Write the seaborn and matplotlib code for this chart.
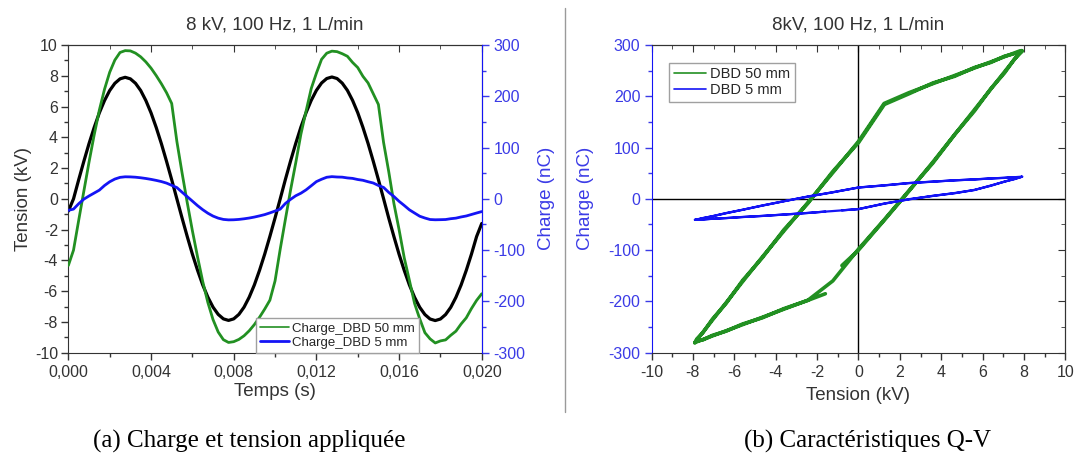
import numpy as np
import matplotlib
matplotlib.use("Agg")
import matplotlib.pyplot as plt
from matplotlib.lines import Line2D
from matplotlib.ticker import MultipleLocator, FuncFormatter
import seaborn as sns

# oscilloscope samples, one every 0.25 ms over two periods
time_s = np.linspace(0.0, 0.020, 81)

tension_kv = [
    -0.80, 0.00, 1.24, 2.44, 3.59, 4.64, 5.59, 6.39, 7.04, 7.51,
    7.80, 7.90, 7.80, 7.51, 7.04, 6.39, 5.59, 4.64, 3.59, 2.44,
    1.24, 0.00, -1.24, -2.44, -3.59, -4.64, -5.59, -6.39, -7.04, -7.51,
    -7.80, -7.90, -7.80, -7.51, -7.04, -6.39, -5.59, -4.64, -3.59, -2.44,
    -1.24, 0.00, 1.26, 2.46, 3.60, 4.66, 5.60, 6.40, 7.05, 7.53,
    7.82, 7.92, 7.82, 7.52, 7.05, 6.40, 5.60, 4.65, 3.60, 2.45,
    1.25, 0.01, -1.25, -2.45, -3.60, -4.65, -5.60, -6.40, -7.05, -7.52,
    -7.81, -7.91, -7.81, -7.52, -7.05, -6.40, -5.60, -4.65, -3.60, -2.45,
    -1.60,
]

charge_50mm_nc = [
    -130.0, -100.0, -42.0, 15.0, 71.5, 124.8, 173.1, 213.7, 246.8, 270.6,
    285.4, 289.0, 288.5, 284.1, 276.9, 267.0, 254.9, 240.4, 224.5, 207.0,
    186.0, 112.0, 51.0, -7.0, -62.0, -113.0, -161.0, -202.1, -235.5, -259.7,
    -274.6, -280.0, -278.5, -274.1, -267.0, -257.2, -245.1, -230.8, -214.9, -197.6,
    -160.0, -98.0, -40.0, 17.0, 70.0, 126.0, 171.0, 215.0, 245.0, 272.0,
    284.0, 288.0, 287.0, 283.0, 278.0, 266.0, 256.0, 239.0, 226.0, 205.0,
    184.0, 110.0, 53.0, -9.0, -60.0, -115.0, -159.0, -204.0, -234.0, -261.0,
    -273.0, -281.0, -277.0, -275.0, -266.0, -258.0, -244.0, -232.0, -214.0, -198.0,
    -185.0,
]

charge_5mm_nc = [
    -22.4, -20.0, -9.5, -0.6, 5.6, 11.3, 17.0, 26.0, 33.3, 38.6,
    41.9, 43.0, 42.8, 42.2, 41.1, 39.7, 38.0, 36.0, 33.7, 30.7,
    26.4, 22.0, 13.0, 4.3, -4.4, -13.2, -21.1, -28.0, -33.6, -37.6,
    -40.1, -41.0, -40.8, -40.1, -38.9, -37.4, -35.5, -33.2, -30.7, -27.4,
    -23.8, -20.0, -9.0, -1.0, 6.0, 11.0, 17.5, 25.5, 33.6, 38.2,
    42.1, 43.3, 42.6, 42.3, 40.8, 39.9, 37.7, 36.2, 33.4, 30.9,
    26.1, 22.3, 12.6, 4.6, -4.8, -12.9, -21.4, -27.7, -33.9, -37.4,
    -40.3, -40.8, -40.6, -40.3, -38.7, -37.6, -35.3, -33.4, -30.5, -27.6,
    -24.8,
]

sns.set_style("ticks")
plt.rcParams['font.family'] = ['Liberation Sans', 'DejaVu Sans']
plt.rcParams['axes.unicode_minus'] = False

GREEN = '#229022'
BLUE = '#1414f5'
LABEL_BLUE = '#3b3be6'
DARK = '#333333'
TICK_FS = 11.5
LABEL_FS = 13.5


def mirror_ticks(ax, x_major, x_minor, y_major, y_minor, color_top, color_right):
    # inward ticks on the top and right edges, without labels
    top = ax.secondary_xaxis('top')
    top.xaxis.set_major_locator(MultipleLocator(x_major))
    top.xaxis.set_minor_locator(MultipleLocator(x_minor))
    top.tick_params(which='both', direction='in', labeltop=False, colors=color_top)
    top.tick_params(which='major', length=5)
    top.tick_params(which='minor', length=3)
    top.spines['top'].set_color(color_top)
    if y_major is not None:
        right = ax.secondary_yaxis('right')
        right.yaxis.set_major_locator(MultipleLocator(y_major))
        right.yaxis.set_minor_locator(MultipleLocator(y_minor))
        right.tick_params(which='both', direction='in', labelright=False, colors=color_right)
        right.tick_params(which='major', length=5)
        right.tick_params(which='minor', length=3)
        right.spines['right'].set_color(color_right)


fig = plt.figure(figsize=(10.78, 4.54), dpi=100)
ax1 = fig.add_axes([0.0634, 0.2231, 0.3835, 0.6778])
ax2 = ax1.twinx()
ax3 = fig.add_axes([0.6044, 0.2231, 0.3839, 0.6778])

# (a) time traces
sns.lineplot(x=time_s, y=tension_kv, ax=ax1, color='black', linewidth=2.3)
sns.lineplot(x=time_s, y=charge_50mm_nc, ax=ax2, color=GREEN, linewidth=2.0)
sns.lineplot(x=time_s, y=charge_5mm_nc, ax=ax2, color=BLUE, linewidth=2.0)

ax1.set_xlim(0, 0.020)
ax1.set_ylim(-10, 10)
ax2.set_ylim(-300, 300)
ax1.xaxis.set_major_locator(MultipleLocator(0.004))
ax1.xaxis.set_minor_locator(MultipleLocator(0.002))
ax1.xaxis.set_major_formatter(FuncFormatter(lambda v, p: f"{v:.3f}".replace('.', ',')))
ax1.yaxis.set_major_locator(MultipleLocator(2))
ax1.yaxis.set_minor_locator(MultipleLocator(1))
ax2.yaxis.set_major_locator(MultipleLocator(100))
ax2.yaxis.set_minor_locator(MultipleLocator(50))

ax1.tick_params(axis='x', which='both', direction='out', top=False,
                labelsize=TICK_FS, colors=DARK, pad=3.5)
ax1.tick_params(axis='y', which='both', direction='out', right=False,
                labelsize=TICK_FS, colors=DARK, pad=2.5)
ax2.tick_params(axis='y', which='both', direction='out', labelsize=TICK_FS,
                colors=LABEL_BLUE, pad=3.5)
for ax in (ax1, ax2, ax3):
    ax.tick_params(which='major', length=5, width=1)
    ax.tick_params(which='minor', length=3, width=1)
for side in ('left', 'bottom', 'top'):
    ax1.spines[side].set_color(DARK)
ax2.spines['right'].set_color(BLUE)
for side in ('left', 'bottom', 'top'):
    ax2.spines[side].set_visible(False)
mirror_ticks(ax1, 0.004, 0.002, None, None, DARK, DARK)

ax1.set_xlabel('Temps (s)', fontsize=LABEL_FS, color=DARK)
ax1.set_ylabel('Tension (kV)', fontsize=LABEL_FS, color=DARK)
ax2.set_ylabel('Charge (nC)', fontsize=LABEL_FS, color=LABEL_BLUE)
ax1.xaxis.set_label_coords(0.5, -0.098)
ax1.yaxis.set_label_coords(-0.087, 0.5)
ax2.yaxis.set_label_coords(1.135, 0.5)
ax1.set_title('8 kV, 100 Hz, 1 L/min', fontsize=13.5, color=DARK, pad=11)

leg_a = [Line2D([], [], color=GREEN, lw=1.2), Line2D([], [], color=BLUE, lw=2.0)]
ax2.legend(leg_a, ['Charge_DBD 50 mm', 'Charge_DBD 5 mm'], loc='lower left',
           bbox_to_anchor=(0.454, 0.0), fontsize=9.5, frameon=True, fancybox=False,
           edgecolor='#a0a0a0', framealpha=1, borderpad=0.3, labelspacing=0.15,
           handlelength=2.2, handletextpad=0.25, borderaxespad=0.0)

# (b) Q-V loops
ax3.axhline(0, color='black', linewidth=1, zorder=1)
ax3.axvline(0, color='black', linewidth=1, zorder=1)
sns.lineplot(x=tension_kv, y=charge_50mm_nc, ax=ax3, sort=False, estimator=None,
             color=GREEN, linewidth=2.6)
sns.lineplot(x=tension_kv, y=charge_5mm_nc, ax=ax3, sort=False, estimator=None,
             color=BLUE, linewidth=1.6)
ax3.set_xlim(-10, 10)
ax3.set_ylim(-300, 300)
ax3.xaxis.set_major_locator(MultipleLocator(2))
ax3.xaxis.set_minor_locator(MultipleLocator(1))
ax3.yaxis.set_major_locator(MultipleLocator(100))
ax3.yaxis.set_minor_locator(MultipleLocator(50))
ax3.tick_params(axis='x', which='both', direction='out', top=False,
                labelsize=TICK_FS, colors=DARK, pad=3.5)
ax3.tick_params(axis='y', which='both', direction='out', right=False,
                labelsize=TICK_FS, colors=LABEL_BLUE, pad=3)
for side in ('right', 'bottom', 'top'):
    ax3.spines[side].set_color(DARK)
ax3.spines['left'].set_color(BLUE)
mirror_ticks(ax3, 2, 1, 100, 50, DARK, DARK)
ax3.set_xlabel('Tension (kV)', fontsize=LABEL_FS, color=DARK)
ax3.set_ylabel('Charge (nC)', fontsize=LABEL_FS, color=LABEL_BLUE)
ax3.xaxis.set_label_coords(0.5, -0.11)
ax3.yaxis.set_label_coords(-0.14, 0.5)
ax3.set_title('8kV, 100 Hz, 1 L/min', fontsize=13.5, color=DARK, pad=11)

leg_b = [Line2D([], [], color=GREEN, lw=1.2), Line2D([], [], color=BLUE, lw=1.2)]
ax3.legend(leg_b, ['DBD 50 mm', 'DBD 5 mm'], loc='upper left',
           bbox_to_anchor=(0.043, 0.9425), fontsize=10.5, frameon=True, fancybox=False,
           edgecolor='#a0a0a0', framealpha=1, borderpad=0.3, labelspacing=0.15,
           handlelength=2.2, handletextpad=0.3, borderaxespad=0.0)

# separator and sub-captions
fig.add_artist(Line2D([565 / 1078, 565 / 1078], [1 - 8 / 454, 1 - 412 / 454],
                      color='#9a9a9a', linewidth=1))
fig.text(249 / 1078, 1 - 441 / 454, '(a) Charge et tension appliquée',
         ha='center', va='center', family='Liberation Serif', fontsize=18, color='black')
fig.text(868 / 1078, 1 - 441 / 454, '(b) Caractéristiques Q-V',
         ha='center', va='center', family='Liberation Serif', fontsize=18, color='black')

fig.savefig('out.png', dpi=100, facecolor='white')
